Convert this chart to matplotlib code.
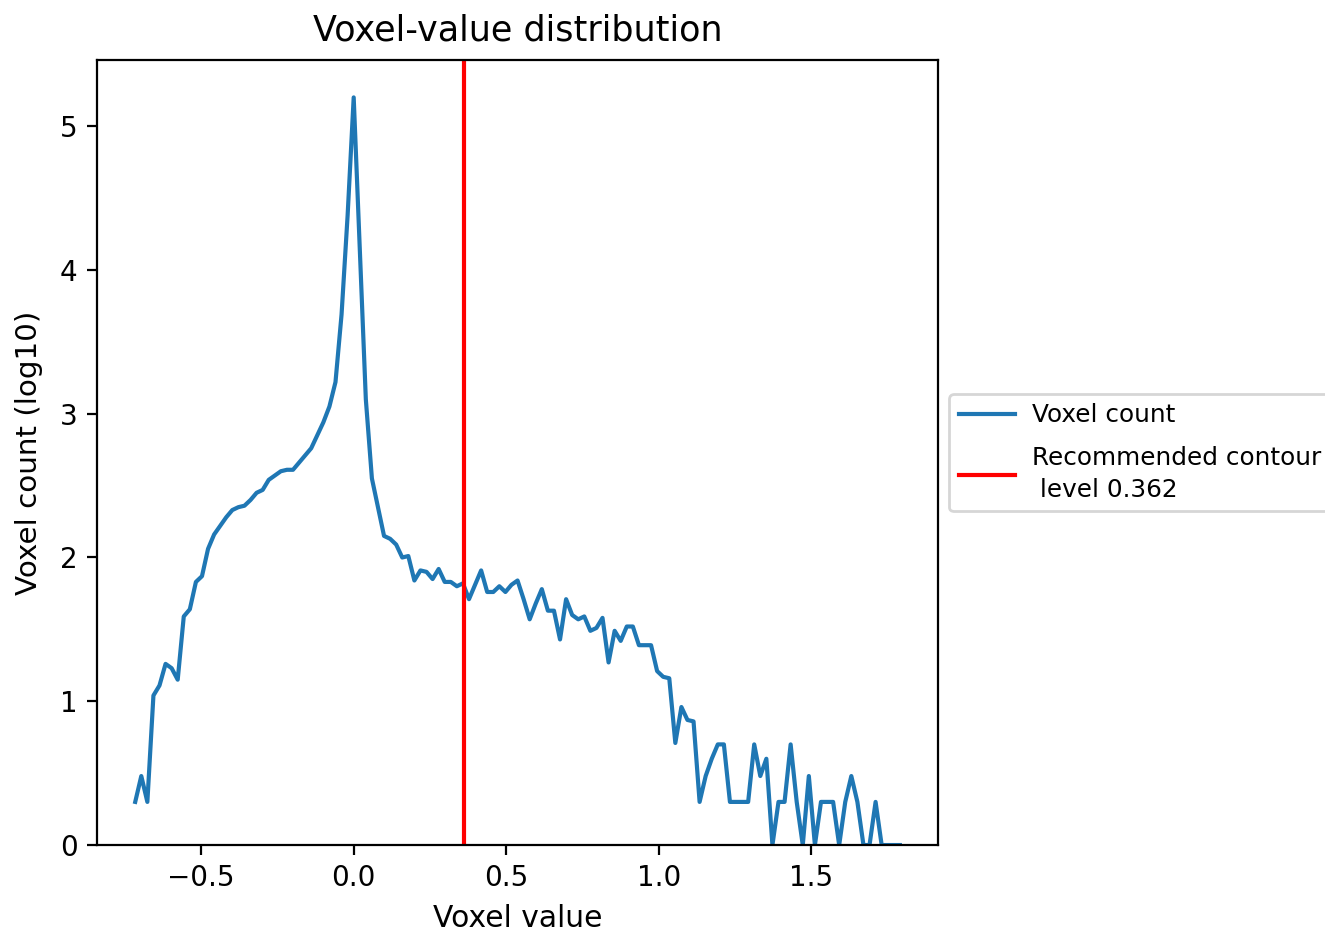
import numpy as np
import matplotlib
matplotlib.use('Agg')
import matplotlib.pyplot as plt

# histogram bins (centres)
bin_start = -0.7164
bin_width = 0.0199
n_bins = 127

log_counts = [
    0.30, 0.48, 0.30, 1.04, 1.11, 1.26, 1.23, 1.15, 1.59, 1.64,
    1.83, 1.87, 2.06, 2.16, 2.22, 2.28, 2.33, 2.35, 2.36, 2.40,
    2.45, 2.47, 2.54, 2.57, 2.60, 2.61, 2.61, 2.66, 2.71, 2.76,
    2.85, 2.94, 3.05, 3.22, 3.69, 4.38, 5.20, 4.15, 3.10, 2.55,
    2.35, 2.15, 2.13, 2.09, 2.00, 2.01, 1.84, 1.91, 1.90, 1.85,
    1.92, 1.83, 1.83, 1.80, 1.82, 1.71, 1.81, 1.91, 1.76, 1.76,
    1.80, 1.76, 1.81, 1.84, 1.71, 1.57, 1.68, 1.78, 1.63, 1.63,
    1.43, 1.71, 1.60, 1.57, 1.59, 1.49, 1.51, 1.58, 1.27, 1.49,
    1.42, 1.52, 1.52, 1.39, 1.39, 1.39, 1.21, 1.17, 1.16, 0.71,
    0.96, 0.87, 0.86, 0.30, 0.48, 0.60, 0.70, 0.70, 0.30, 0.30,
    0.30, 0.30, 0.70, 0.48, 0.60, 0.00, 0.30, 0.30, 0.70, 0.30,
    0.00, 0.48, 0.00, 0.30, 0.30, 0.30, 0.00, 0.30, 0.48, 0.30,
    0.00, 0.00, 0.30, 0.00, 0.00, 0.00, 0.00,
]
contour_level = 0.362

voxel_values = bin_start + bin_width * np.arange(n_bins)

fig = plt.figure(figsize=(6.625, 4.66), dpi=200)
ax = fig.add_axes([0.0732, 0.0933, 0.6348, 0.8423])
ax.plot(voxel_values, log_counts, label='Voxel count')
ax.axvline(contour_level, color='red',
           label='Recommended contour\n level {:.3f}'.format(contour_level))
ax.set_ylim(bottom=0)
ax.set_xlabel('Voxel value', fontsize=10.7)
ax.set_ylabel('Voxel count (log10)', fontsize=10.6, labelpad=6)
ax.set_title('Voxel-value distribution', fontsize=12.6, pad=7)
leg = ax.legend(loc='center left', bbox_to_anchor=(1, 0.5), fontsize=8.9,
                handlelength=2.25, borderaxespad=0.45, labelspacing=0.75,
                borderpad=0.4, handletextpad=0.7)
for t in leg.get_texts():
    t.set_linespacing(1.4)

fig.savefig('out.png', dpi=200)
